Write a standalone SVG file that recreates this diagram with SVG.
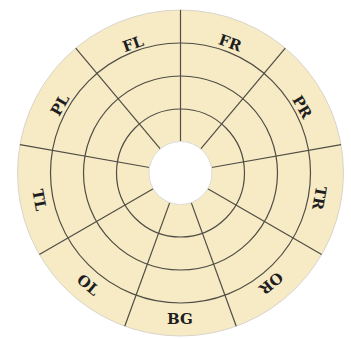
<svg xmlns="http://www.w3.org/2000/svg" width="351" height="338" viewBox="0 0 351 338">
<style>
.ring{fill:none;stroke:#4f4d44;stroke-width:1.2}
.spoke{stroke:#4f4d44;stroke-width:1.2}
.lbl{font-family:"DejaVu Serif","Liberation Serif",serif;font-weight:bold;font-size:15px;fill:#1e1e1e;text-anchor:middle;dominant-baseline:central}
</style>
<rect width="351" height="338" fill="#fff"/>
<g id="disc" transform="translate(180.5,173)">
<circle r="163" fill="#F7EBC6" stroke="#d8d4c8" stroke-width="1"/>
</g>
<g id="connectors" transform="translate(180.5,173)">
<circle class="ring" r="64"/>
<circle class="ring" r="97"/>
<circle class="ring" r="130"/>
<line class="spoke" x1="0" y1="-31.5" x2="0" y2="-163" transform="rotate(0)"/>
<line class="spoke" x1="0" y1="-31.5" x2="0" y2="-163" transform="rotate(40)"/>
<line class="spoke" x1="0" y1="-31.5" x2="0" y2="-163" transform="rotate(80)"/>
<line class="spoke" x1="0" y1="-31.5" x2="0" y2="-163" transform="rotate(120)"/>
<line class="spoke" x1="0" y1="-31.5" x2="0" y2="-163" transform="rotate(160)"/>
<line class="spoke" x1="0" y1="-31.5" x2="0" y2="-163" transform="rotate(200)"/>
<line class="spoke" x1="0" y1="-31.5" x2="0" y2="-163" transform="rotate(240)"/>
<line class="spoke" x1="0" y1="-31.5" x2="0" y2="-163" transform="rotate(280)"/>
<line class="spoke" x1="0" y1="-31.5" x2="0" y2="-163" transform="rotate(320)"/>
</g>
<g id="hole" transform="translate(180.5,173)">
<circle r="31.5" fill="#fff" stroke="#dcdcdc" stroke-width="1"/>
</g>
<g id="FL"><text class="lbl" transform="translate(133,44) rotate(-20)">FL</text></g>
<g id="FR"><text class="lbl" transform="translate(230,43) rotate(20)">FR</text></g>
<g id="PR"><text class="lbl" transform="translate(302,107) rotate(60)">PR</text></g>
<g id="TR"><text class="lbl" transform="translate(319,198) rotate(100)">TR</text></g>
<g id="OR"><text class="lbl" transform="translate(271,283) rotate(140)">OR</text></g>
<g id="BG"><text class="lbl" transform="translate(180,319)">BG</text></g>
<g id="OL"><text class="lbl" transform="translate(88,285) rotate(40)">OL</text></g>
<g id="TL"><text class="lbl" transform="translate(39,200) rotate(80)">TL</text></g>
<g id="PL"><text class="lbl" transform="translate(60,105) rotate(-60)">PL</text></g>
</svg>
